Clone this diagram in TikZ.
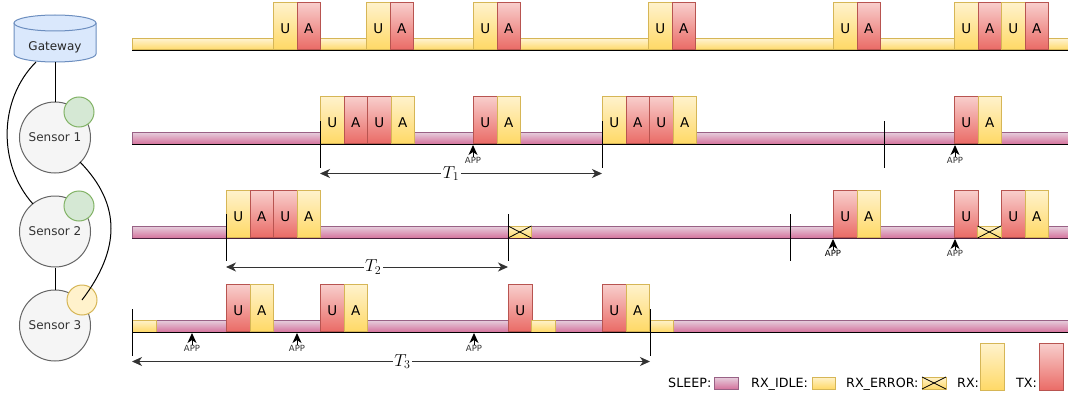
\documentclass[tikz,border=0pt]{standalone}
\usepackage{amsmath}
\usepackage{fontspec}
\usepackage{xcolor}
\usetikzlibrary{arrows.meta}
\setmainfont{DejaVu Sans}

\definecolor{rxtop}{HTML}{FFF2CC}
\definecolor{rxbot}{HTML}{FFD966}
\definecolor{rxline}{HTML}{D6B656}
\definecolor{txtop}{HTML}{F8CECC}
\definecolor{txbot}{HTML}{EA6B66}
\definecolor{txline}{HTML}{B85450}
\definecolor{sleeptop}{HTML}{E6D0DE}
\definecolor{sleepbot}{HTML}{D5739D}
\definecolor{sleepline}{HTML}{996185}
\definecolor{plumline}{HTML}{4A1F3D}
\definecolor{greenfill}{HTML}{D5E8D4}
\definecolor{greenline}{HTML}{82B366}
\definecolor{bluefill}{HTML}{DAE8FC}
\definecolor{blueline}{HTML}{6C8EBF}

\tikzset{
  rxbox/.style={draw=rxline,line width=1pt,top color=rxtop,bottom color=rxbot,anchor=south west,minimum width=23.5pt,minimum height=47pt,inner sep=0pt,text height=14.5pt,text depth=0pt,font=\fontsize{13.5}{15}\selectfont},
  txbox/.style={rxbox,draw=txline,top color=txtop,bottom color=txbot},
  rxidle/.style={draw=rxline,line width=1pt,top color=rxtop,bottom color=rxbot},
  sleepbar/.style={draw=sleepline,line width=1pt,top color=sleeptop,bottom color=sleepbot},
  sensor/.style={circle,draw=black!60,line width=1pt,fill=black!4,text=black!80,minimum size=71pt,inner sep=0pt,font=\fontsize{12}{14}\selectfont},
  greendot/.style={circle,draw=greenline,line width=1pt,fill=greenfill,minimum size=30pt,inner sep=0pt},
  yellowdot/.style={circle,draw=rxline,line width=1pt,fill=rxtop,minimum size=30pt,inner sep=0pt},
  gatewaybody/.style={draw=blueline,line width=1pt,fill=bluefill},
  legendtext/.style={anchor=base west,inner sep=0pt,font=\fontsize{12.7}{14}\selectfont},
  apptext/.style={inner sep=0pt,text=black!80,font=\fontsize{8.5}{9}\selectfont},
  apparrow/.style={-{Stealth[length=10pt,width=9pt,inset=3pt]},line width=1pt},
  spanarrow/.style={{Stealth[length=10pt,width=9pt,inset=3pt]}-{Stealth[length=10pt,width=9pt,inset=3pt]},line width=1pt,black!80},
  timetick/.style={line width=1pt},
  spanlabel/.style={fill=white,inner sep=1.5pt,text=black,font=\fontsize{17}{17}\selectfont},
  crossline/.style={line width=0.8pt},
  wire/.style={line width=1pt},
}

\begin{document}
\begin{tikzpicture}[x=1pt,y=-1pt]
            \useasboundingbox (0,0) rectangle (1068,396);

            % left column
            \draw[gatewaybody] (14,23) -- (14,54) arc[start angle=180,end angle=0,x radius=41,y radius=8] -- (96,23);
            \draw[gatewaybody] (55,23) ellipse [x radius=41,y radius=8];
            \node[inner sep=0pt,font=\fontsize{12}{14}\selectfont,text=black!85] (gateway) at (55,47) {Gateway};
            \node[sensor] (sensor1) at (55,137.5) {Sensor 1};
            \node[sensor] (sensor2) at (55,231.5) {Sensor 2};
            \node[sensor] (sensor3) at (55,325.5) {Sensor 3};
            \coordinate (gwbottom) at (55,62);
            \draw[wire] (gwbottom) -- (sensor1);
            \draw[wire] (sensor2) -- (sensor3);
            \coordinate (gwleft) at (36,62);
            \coordinate (s2left) at (33,204);
            \draw[wire] (gwleft) .. controls (-2,100) and (-2,165) .. (s2left);
            \node[greendot] (radio1) at (79,112) {};
            \node[greendot] (radio2) at (79,206) {};
            \node[yellowdot] (radio3) at (82,300) {};
            \coordinate (s1right) at (80,162);
            \draw[wire] (s1right) .. controls (122,205) and (120,250) .. (radio3.center);

            % gateway row
            \draw[rxidle] (132,39) rectangle (1068,50);
            \node[rxbox] (g1u) at (273,50) {U};
            \node[txbox] (g1a) at (296.5,50) {A};
            \node[rxbox] (g2u) at (366,50) {U};
            \node[txbox] (g2a) at (389.5,50) {A};
            \node[rxbox] (g3u) at (473,50) {U};
            \node[txbox] (g3a) at (496.5,50) {A};
            \node[rxbox] (g4u) at (648,50) {U};
            \node[txbox] (g4a) at (671.5,50) {A};
            \node[rxbox] (g5u) at (833,50) {U};
            \node[txbox] (g5a) at (856.5,50) {A};
            \node[rxbox] (g6u) at (954,50) {U};
            \node[txbox] (g6a) at (977.5,50) {A};
            \node[rxbox] (g7u) at (1001,50) {U};
            \node[txbox] (g7a) at (1024.5,50) {A};
            \draw[wire] (132,50.5) -- (1068,50.5);

            % sensor 1 row
            \draw[sleepbar] (132,132) rectangle (1068,144);
            \node[rxbox] (a1u) at (320,144) {U};
            \node[txbox] (a1a) at (343.5,144) {A};
            \node[txbox] (a2u) at (367,144) {U};
            \node[rxbox] (a2a) at (390.5,144) {A};
            \node[txbox] (a3u) at (473,144) {U};
            \node[rxbox] (a3a) at (496.5,144) {A};
            \node[rxbox] (a4u) at (602,144) {U};
            \node[txbox] (a4a) at (625.5,144) {A};
            \node[txbox] (a5u) at (649,144) {U};
            \node[rxbox] (a5a) at (672.5,144) {A};
            \node[txbox] (a6u) at (954,144) {U};
            \node[rxbox] (a6a) at (977.5,144) {A};
            \draw[wire] (132,144.5) -- (1068,144.5);
            \draw[timetick] (320,121) -- (320,168);
            \draw[timetick] (602,121) -- (602,168);
            \draw[timetick] (884,121) -- (884,168);
            \node[apptext] (app1) at (473,160) {APP};
            \coordinate (app1t) at (473,145);
            \draw[apparrow] (app1) -- (app1t);
            \node[apptext] (app2) at (955,160) {APP};
            \coordinate (app2t) at (955,145);
            \draw[apparrow] (app2) -- (app2t);
            \coordinate (t1a) at (320,173.5);
            \coordinate (t1b) at (602,173.5);
            \draw[spanarrow] (t1a) -- node[spanlabel,pos=0.465] (t1) {$T_1$} (t1b);

            % sensor 2 row
            \draw[sleepbar] (132,226) rectangle (1068,238);
            \node[rxbox] (b1u) at (226,238) {U};
            \node[txbox] (b1a) at (249.5,238) {A};
            \node[txbox] (b2u) at (273,238) {U};
            \node[rxbox] (b2a) at (296.5,238) {A};
            \node[txbox] (b3u) at (833,238) {U};
            \node[rxbox] (b3a) at (856.5,238) {A};
            \node[txbox] (b4u) at (954,238) {U};
            \node[txbox] (b5u) at (1001,238) {U};
            \node[rxbox] (b5a) at (1024.5,238) {A};
            \draw[rxidle] (508,226) rectangle (531.5,238);
            \draw[crossline] (508,226) -- (531.5,238);
            \draw[crossline] (508,238) -- (531.5,226);
            \draw[rxidle] (977.5,226) rectangle (1001,238);
            \draw[crossline] (977.5,226) -- (1001,238);
            \draw[crossline] (977.5,238) -- (1001,226);
            \draw[wire,plumline] (132,238.5) -- (1068,238.5);
            \draw[timetick] (226,214) -- (226,261);
            \draw[timetick] (508,214) -- (508,261);
            \draw[timetick] (790,214) -- (790,261);
            \node[apptext,text=black] (app3) at (833,253) {APP};
            \coordinate (app3t) at (833,239);
            \draw[apparrow] (app3) -- (app3t);
            \node[apptext] (app4) at (955,253) {APP};
            \coordinate (app4t) at (955,239);
            \draw[apparrow] (app4) -- (app4t);
            \coordinate (t2a) at (226,267);
            \coordinate (t2b) at (508,267);
            \draw[spanarrow] (t2a) -- node[spanlabel,pos=0.522] (t2) {$T_2$} (t2b);

            % sensor 3 row
            \draw[sleepbar] (132,320) rectangle (1068,332);
            \draw[rxidle] (132,320) rectangle (156,332);
            \node[txbox] (c1u) at (226,332) {U};
            \node[rxbox] (c1a) at (249.5,332) {A};
            \node[txbox] (c2u) at (320,332) {U};
            \node[rxbox] (c2a) at (343.5,332) {A};
            \node[txbox] (c3u) at (508,332) {U};
            \draw[rxidle] (531.5,320) rectangle (555,332);
            \node[txbox] (c4u) at (602,332) {U};
            \node[rxbox] (c4a) at (625.5,332) {A};
            \draw[rxidle] (649,320) rectangle (673,332);
            \draw[wire] (132,332.5) -- (1068,332.5);
            \draw[timetick] (132,309) -- (132,356);
            \draw[timetick] (650,309) -- (650,356);
            \node[apptext] (app5) at (192,348) {APP};
            \coordinate (app5t) at (192,333);
            \draw[apparrow] (app5) -- (app5t);
            \node[apptext] (app6) at (297,348) {APP};
            \coordinate (app6t) at (297,333);
            \draw[apparrow] (app6) -- (app6t);
            \node[apptext] (app7) at (474,348) {APP};
            \coordinate (app7t) at (474,333);
            \draw[apparrow] (app7) -- (app7t);
            \coordinate (t3a) at (132,361.5);
            \coordinate (t3b) at (650,361.5);
            \draw[spanarrow] (t3a) -- node[spanlabel,pos=0.522] (t3) {$T_3$} (t3b);

            % legend
            \node[legendtext] (sleeplabel) at (668,387) {SLEEP:};
            \draw[sleepbar] (714,377) rectangle (738,389);
            \node[legendtext] (idlelabel) at (751,387) {RX\_IDLE:};
            \draw[rxidle] (812,377) rectangle (835,389);
            \node[legendtext] (errorlabel) at (846,387) {RX\_ERROR:};
            \draw[rxidle] (922,377) rectangle (946,389);
            \draw[crossline] (922,377) -- (946,389);
            \draw[crossline] (922,389) -- (946,377);
            \node[legendtext] (rxlabel) at (957,387) {RX:};
            \node[rxbox] (rxkey) at (980,391) {};
            \node[legendtext] (txlabel) at (1016,387) {TX:};
            \node[txbox] (txkey) at (1039,391) {};
        \end{tikzpicture}
\end{document}
